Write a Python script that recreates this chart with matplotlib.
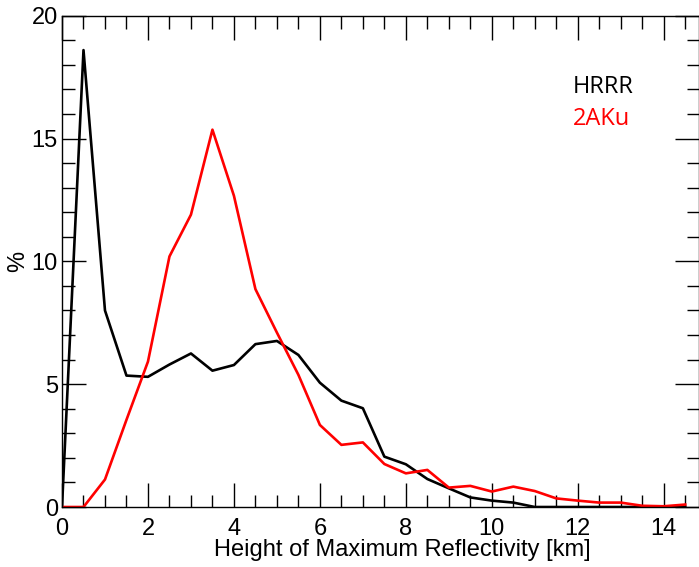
import numpy as np
from matplotlib import pyplot as plt
from matplotlib.ticker import MultipleLocator

# height bins [km], 0.5 km spacing
height = np.arange(0, 15, 0.5)

hrrr = [0.0, 18.6, 8.0, 5.35, 5.3, 5.8, 6.25, 5.55, 5.78, 6.63, 6.76, 6.19,
        5.06, 4.33, 4.02, 2.05, 1.74, 1.14, 0.76, 0.39, 0.26, 0.18, 0.0, 0.0,
        0.0, 0.0, 0.0, 0.0, 0.0, 0.0]
aku = [0.0, 0.0, 1.12, 3.55, 5.92, 10.2, 11.9, 15.36, 12.67, 8.87, 7.1, 5.38,
       3.34, 2.53, 2.63, 1.75, 1.37, 1.51, 0.79, 0.86, 0.63, 0.83, 0.65, 0.35,
       0.26, 0.18, 0.18, 0.05, 0.03, 0.1]

plt.rcParams["font.family"] = ["Liberation Sans", "DejaVu Sans"]

fig = plt.figure(figsize=(6.99, 5.67), dpi=100)
ax = fig.add_axes([0.0887, 0.1058, 0.9113, 0.8665])

ax.plot(height, hrrr, color="black", lw=1.9)
ax.plot(height, aku, color="red", lw=1.9)

ax.set_xlim(0, 14.82)
ax.set_ylim(0, 20)
ax.xaxis.set_major_locator(MultipleLocator(2))
ax.xaxis.set_minor_locator(MultipleLocator(0.5))
ax.yaxis.set_major_locator(MultipleLocator(5))
ax.yaxis.set_minor_locator(MultipleLocator(1))
ax.tick_params(which="both", direction="in", top=True, right=True,
               labelsize=17, width=1, color="black")
ax.tick_params(which="major", length=17)
ax.tick_params(axis="x", which="major", pad=8)
ax.tick_params(axis="y", which="major", pad=3)
ax.tick_params(which="minor", length=9)
for s in ax.spines.values():
    s.set_linewidth(1)

ax.set_xlabel("Height of Maximum Reflectivity [km]", fontsize=17, labelpad=0)
ax.xaxis.set_label_coords(0.534, -0.065, transform=ax.transAxes)
ax.set_ylabel("%", fontsize=17, labelpad=2)

ax.text(0.802, 0.855, "HRRR", transform=ax.transAxes, color="black",
        fontsize=17, family=["Open Sans", "DejaVu Sans"], va="center")
ax.text(0.802, 0.79, "2AKu", transform=ax.transAxes, color="red",
        fontsize=17, family=["Open Sans", "DejaVu Sans"], va="center")

fig.savefig("out.png", dpi=100)
